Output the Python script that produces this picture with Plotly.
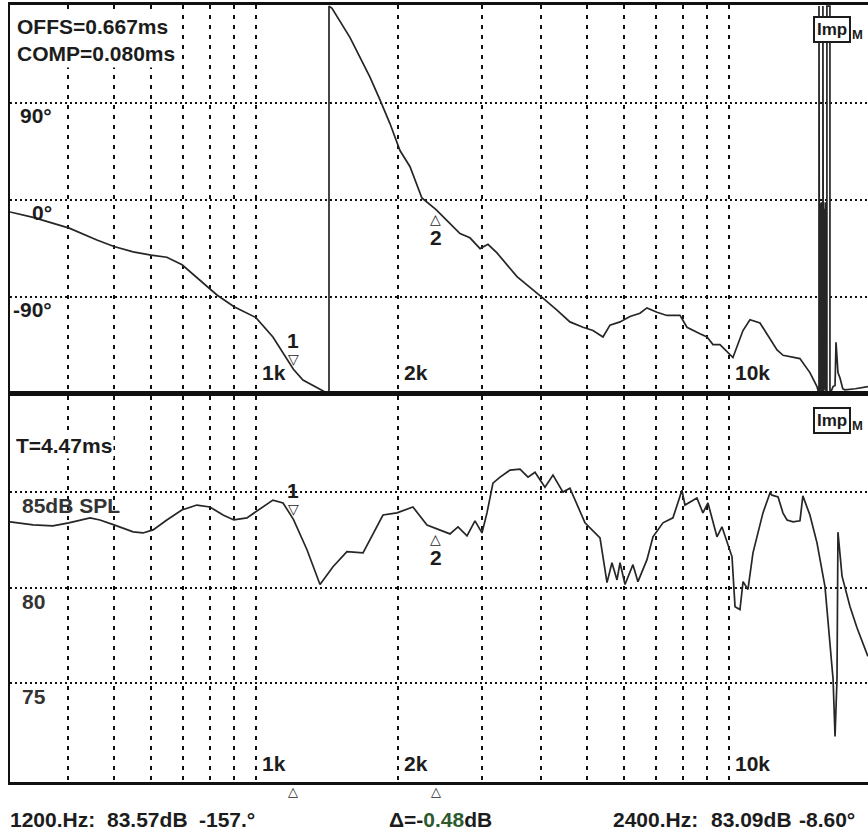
import numpy as np
import plotly.graph_objects as go

# ---------------- data ----------------
phase_freq = [302, 338, 403, 461, 501, 550, 600, 648, 698, 761, 827, 899, 1000, 1086,
              1200, 1257, 1333, 1406, 1427, 1427, 1448, 1580, 1742, 1829, 1920, 2016,
              2117, 2243, 2400, 2535, 2700, 2834, 2977, 3094, 3233, 3563, 3852, 4044,
              4329, 4611, 4913, 5159, 5416, 5603, 5884, 6176, 6484, 6709, 7043, 7395,
              7879, 8152, 8684, 8986, 9253, 9572, 10197, 10706, 11077, 11630, 12636,
              13013, 14125, 14830, 15350, 15480, 15500, 15500, 15520, 15540, 15560,
              15580, 15600, 15620, 15640, 15660, 15680, 15700, 15800, 15800, 15820,
              15860, 15900, 15940, 15980, 16040, 16110, 16110, 16350, 16350, 16500,
              16600, 16760, 16840, 17000, 17170, 17400, 17580, 18500, 19670]
phase_deg = [-11, -16, -26, -37, -43, -48, -51, -53, -60, -74, -88, -99, -109, -127,
             -157, -167, -173, -178, -180, 180, 178, 151, 114, 93, 71, 46,
             31, 2, -8.6, -19, -31, -35, -45, -41, -49, -71, -83, -91,
             -102, -113, -118, -121, -127, -116, -113, -108, -105, -100, -104, -107,
             -107, -118, -124, -127, -134, -134, -146, -121, -111, -114, -139,
             -144, -147, -160, -173, -178, -180, 180, -5, -178, -10,
             -175, -3, -179, -20, -170, -2, -180, -180, 180, -5,
             -178, -8, -176, -2, -179, -180, 180, 180, -180, -175,
             -173, -172, -132, -160, -165, -175, -176, -175, -173]

mag_freq = [302, 338, 372, 402, 446, 468, 501, 550, 577, 606, 648, 697, 750, 799,
            852, 898, 957, 1000, 1086, 1141, 1200, 1282, 1366, 1455, 1557, 1684,
            1856, 1987, 2147, 2299, 2400, 2572, 2674, 2794, 2904, 3005, 3079, 3170,
            3281, 3444, 3616, 3760, 3890, 4083, 4246, 4457, 4611, 4962, 5338, 5523,
            5658, 5798, 5884, 6029, 6266, 6421, 6709, 6909, 7253, 7614, 7955, 8072,
            8556, 8810, 9028, 9433, 9665, 10150, 10300, 10550, 10710, 10970, 11240,
            11800, 12210, 12330, 12700, 13010, 13270, 13660, 14130, 14330, 14830,
            15350, 15960, 16350, 16600, 16760, 16920, 17000, 17340, 18030, 18650, 19670]
mag_db = [83.44, 83.28, 83.23, 83.39, 83.65, 83.54, 83.28, 82.92, 82.86, 83.02, 83.54,
          84.06, 84.32, 84.22, 83.80, 83.54, 83.65, 83.96, 84.58, 84.43, 83.57, 81.98,
          80.16, 81.09, 81.88, 81.82, 83.80, 83.91, 84.22, 83.28, 83.09, 82.81, 83.18,
          82.71, 83.49, 82.86, 83.91, 85.47, 85.78, 86.15, 86.20, 85.78, 86.04, 85.26,
          85.89, 85.00, 85.20, 83.39, 82.60, 80.26, 81.30, 80.40, 81.30, 80.16, 81.20,
          80.31, 81.46, 82.66, 83.39, 83.65, 85.10, 84.32, 84.69, 83.91, 84.43, 82.66,
          83.18, 81.61, 79.00, 78.85, 80.31, 79.90, 81.82, 83.91, 84.95, 84.84, 84.74,
          83.90, 83.54, 83.44, 83.50, 84.80, 83.80, 82.34, 80.05, 77.30, 75.20, 72.20,
          75.20, 82.90, 80.60, 79.00, 77.90, 76.40]

grid_freqs = [400, 500, 600, 700, 800, 900, 1000, 2000, 3000, 4000, 5000, 6000,
              7000, 8000, 9000, 10000]
freq_label_vals = [1000, 2000, 10000]
freq_label_text = ["1k", "2k", "10k"]
phase_ticks = [90, 0, -90]
phase_tick_text = ["90°", "0°", "-90°"]
mag_ticks = [85, 80, 75]
mag_tick_text = ["85dB SPL", "80", "75"]
marker_freqs = [1200, 2400]
marker_phase = [-157.0, -8.60]
marker_db = [83.57, 83.09]

# ---------------- layout constants ----------------
W, H = 868, 833
ML, MR, MT, MB = 10, 0, 5, 51
PW, PH = W - ML - MR, H - MT - MB
FONT = "Liberation Sans, Arial, sans-serif"
INK = "#1c1c1c"
FS = 21
x_lo = np.log10(302)
x_hi = x_lo + PW / 473.0


def px(x):
    return (x - ML) / PW


def py(y):
    return (H - MB - y) / PH


fig = go.Figure()
fig.add_trace(go.Scatter(x=phase_freq, y=phase_deg, mode="lines",
                         line=dict(color="#262626", width=1.7),
                         xaxis="x", yaxis="y", hoverinfo="skip"))
fig.add_trace(go.Scatter(x=mag_freq, y=mag_db, mode="lines",
                         line=dict(color="#262626", width=1.7),
                         xaxis="x2", yaxis="y2", hoverinfo="skip"))

xcommon = dict(type="log", range=[x_lo, x_hi], tickvals=grid_freqs, showticklabels=False,
               showgrid=True, gridcolor="#111", gridwidth=1.5, griddash="4px,6px",
               showline=True, linecolor="#111", linewidth=2.5, mirror=True,
               ticks="", zeroline=False, fixedrange=True)
ycommon = dict(showticklabels=False, showgrid=True, gridcolor="#111", gridwidth=1.5,
               griddash="2px,3px", showline=True, linecolor="#111", linewidth=2,
               mirror=False, ticks="", zeroline=False, fixedrange=True)

fig.update_layout(
    width=W, height=H, margin=dict(l=ML, r=MR, t=MT, b=MB),
    paper_bgcolor="white", plot_bgcolor="white", showlegend=False,
    xaxis=dict(**xcommon, anchor="y"),
    yaxis=dict(**ycommon, domain=[py(391), 1.0], range=[-177.1, 181], tickvals=phase_ticks),
    xaxis2=dict(**xcommon, anchor="y2"),
    yaxis2=dict(**ycommon, domain=[0.0, py(396)], range=[69.82, 90.03], tickvals=mag_ticks),
)

ann = []


def txt(x, y, s, size=FS, xanchor="left", yanchor="middle", color=INK, **kw):
    ann.append(dict(x=px(x), y=py(y), xref="paper", yref="paper", text=s, showarrow=False,
                    xanchor=xanchor, yanchor=yanchor,
                    font=dict(family=FONT, size=size, color=color, weight="bold"), **kw))


# top panel header
txt(14, 12, "OFFS=0.667ms<br>COMP=0.080ms", yanchor="top", align="left",
    bgcolor="white", borderpad=2)
for v, s in zip(phase_ticks, phase_tick_text):
    ann.append(dict(x=px(54), y=v, xref="paper", yref="y", text=s, showarrow=False,
                    xanchor="right", yanchor="top", yshift=1,
                    font=dict(family=FONT, size=FS, color=INK, weight="bold")))
for f, s in zip(freq_label_vals, freq_label_text):
    for yy in (372, 763):
        ann.append(dict(x=np.log10(f), y=py(yy), xref="x", yref="paper", text=s,
                        showarrow=False, xanchor="left", yanchor="middle", xshift=4,
                        font=dict(family=FONT, size=FS, color=INK, weight="bold")))

# lower panel labels
txt(14, 445, "T=4.47ms", bgcolor="white", borderpad=1)
for v, s in zip(mag_ticks, mag_tick_text):
    ann.append(dict(x=px(20), y=v, xref="paper", yref="y2", text=s, showarrow=False,
                    xanchor="left", yanchor="top", yshift=0,
                    font=dict(family=FONT, size=FS, color="#333333", weight="bold")))

# Imp_M boxes
for yy in (29, 420):
    ann.append(dict(x=px(813), y=py(yy), xref="paper", yref="paper", text="Imp",
                    showarrow=False, xanchor="left", yanchor="middle",
                    bordercolor=INK, borderwidth=2, borderpad=2, bgcolor="white",
                    font=dict(family=FONT, size=17, color=INK, weight="bold")))
    txt(850, yy + 5, "M", size=13)

# curve markers
mk_font = dict(family="DejaVu Sans, sans-serif", size=14, color=INK)
num_font = dict(family=FONT, size=FS, color=INK, weight="bold")
for xr, yref, vals in (("x", "y", marker_phase), ("x2", "y2", marker_db)):
    ann.append(dict(x=np.log10(marker_freqs[0]), y=vals[0], xref=xr,
                    yref=yref, text="▽", showarrow=False, xanchor="center",
                    yanchor="bottom", yshift=0, font=mk_font))
    ann.append(dict(x=np.log10(marker_freqs[0]), y=vals[0], xref=xr,
                    yref=yref, text="1", showarrow=False, xanchor="center",
                    yanchor="bottom", yshift=15, font=num_font))
    ann.append(dict(x=np.log10(marker_freqs[1]), y=vals[1], xref=xr,
                    yref=yref, text="△", showarrow=False, xanchor="center",
                    yanchor="top", yshift=0, font=mk_font))
    ann.append(dict(x=np.log10(marker_freqs[1]), y=vals[1], xref=xr,
                    yref=yref, text="2", showarrow=False, xanchor="center",
                    yanchor="top", yshift=-15, font=num_font))

# triangles under the axis
for f in marker_freqs:
    ann.append(dict(x=np.log10(f), y=py(792), xref="x2", yref="paper", text="△",
                    showarrow=False, xanchor="center", yanchor="middle",
                    font=dict(family="DejaVu Sans, sans-serif", size=13, color=INK)))

# readout line
yb = 819
txt(8, yb, "1200.Hz:")
txt(105, yb, "83.57dB")
txt(197, yb, "-157.°")
txt(387, yb, "Δ=-<span style='color:#2f5a2f'>0.48</span>dB")
txt(611, yb, "2400.Hz:")
txt(709, yb, "83.09dB")
txt(797, yb, "-8.60°")

fig.update_layout(annotations=ann)
fig.write_html("out.html", config={"displayModeBar": False},
               post_script="document.body.style.margin='0px';")
